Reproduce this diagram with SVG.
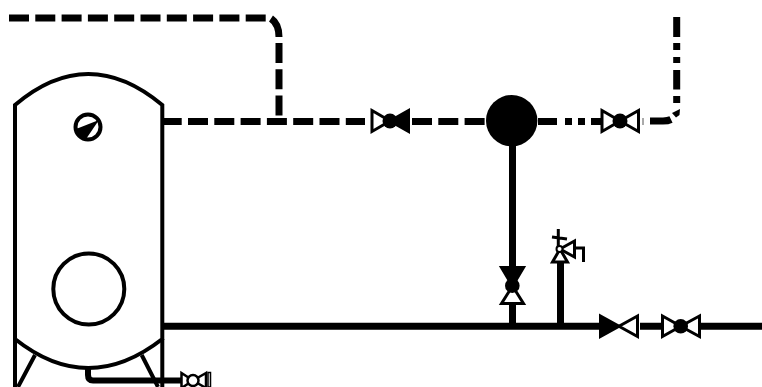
<svg xmlns="http://www.w3.org/2000/svg" width="762" height="387" viewBox="0 0 762 387">
<style>
.o{fill:none;stroke:#000;stroke-width:4}
.p{fill:none;stroke:#000;stroke-width:7}
.d{stroke-dasharray:20 6.3}
.v{fill:#fff;stroke:#000;stroke-width:3;stroke-linejoin:miter}
.k{fill:#000;stroke:#000;stroke-width:3}
.n{fill:none;stroke:#000;stroke-width:3}
.s{fill:#fff;stroke:#000;stroke-width:2.500}
</style>
<rect width="762" height="387" fill="#fff"/>
<g id="connectors">
<path class="p d" d="M9 18H266"/>
<path class="p" d="M271 18.500Q279 24 279 37"/>
<path class="p d" d="M279 43V121"/>
<path class="p d" d="M161.700 121.500H365"/>
<path class="p d" d="M412 121.500H486"/>
<path class="p" d="M538 121.500H557M565 121.500H572M578 121.500H585M591 121.500H601"/>
<path d="M643 118V125" fill="none" stroke="#555" stroke-width="1"/>
<path class="p" d="M650 121H663Q668 121 671 119.500"/>
<path d="M672 113L680 109L679.500 115L676 117.500Z" fill="#000"/>
<path class="p" d="M676.700 17V37M676.700 43V50M676.700 57V63M676.700 70V89.500M676.700 96V103"/>
<path class="p" d="M512.500 145V268M512.500 304V326"/>
<path class="p" d="M162 326.300H600M640 326.300H662M701 326.300H762"/>
<path class="p" d="M560.500 263V326"/>
<path fill="none" stroke="#000" stroke-width="6" d="M88 367V375Q88 380.500 93 380.500H181"/>
</g>
<g id="tank">
<path class="o" d="M15 105Q88 43 162.300 105V339Q88 397 15 339Z"/>
<path class="o" d="M15 339V387M162.300 339V387M35 355L18 387M141.700 355L158 387"/>
<circle class="o" cx="88.800" cy="289" r="35.500"/>
</g>
<g id="gauge">
<circle cx="88" cy="127" r="12.500" fill="#fff" stroke="#000" stroke-width="4"/>
<path d="M99 120L76 129A12 12 0 0 0 86 139Z" fill="#000"/>
</g>
<g id="pump"><circle cx="511.700" cy="120.700" r="25.700" fill="#000"/></g>
<g id="valve-1">
<path class="v" d="M372 110.500L390 121L372 131.500Z"/>
<path class="k" d="M408.500 110.500L390 121L408.500 131.500Z"/>
<circle cx="390" cy="121" r="7.500" fill="#000"/>
</g>
<g id="valve-2">
<path class="v" d="M602 110.500L620 121L602 131.500Z M638.500 110.500L620 121L638.500 131.500Z"/>
<circle cx="620" cy="121" r="7.500" fill="#000"/>
</g>
<g id="valve-3">
<path class="k" d="M501.500 267.500H523.500L512.500 286Z"/>
<path class="v" d="M501.500 303.500H523.500L512.500 286Z"/>
<circle cx="512.300" cy="285.700" r="7.300" fill="#000"/>
</g>
<g id="valve-4">
<path class="k" d="M600.500 316L619 326.300L600.500 336.500Z"/>
<path class="v" d="M637.500 316L619 326.300L637.500 336.500Z"/>
</g>
<g id="valve-5">
<path class="v" d="M662.500 316L680.700 326.300L662.500 336.500Z M699.500 316L680.700 326.300L699.500 336.500Z"/>
<circle cx="680.700" cy="326.300" r="7.300" fill="#000"/>
</g>
<g id="safety-valve">
<path class="v" d="M552.500 262H567.500L560 249Z"/>
<path class="v" d="M560 249L574.500 241V257Z"/>
<path class="n" d="M575 248H583.500V262"/>
<path class="k" d="M558.300 229V246M552 237L567 239"/>
<circle cx="559.500" cy="249" r="3" fill="#fff" stroke="#000" stroke-width="2"/>
</g>
<g id="drain-valve">
<path class="s" d="M181.500 373L193 380.500L181.500 388ZM206 373L193 380.500L206 388Z"/>
<circle cx="193" cy="380.500" r="5.500" class="s"/>
<path d="M208 372.500H210.500V387H208Z" fill="#fff" stroke="#000" stroke-width="1.500"/>
</g>
</svg>
